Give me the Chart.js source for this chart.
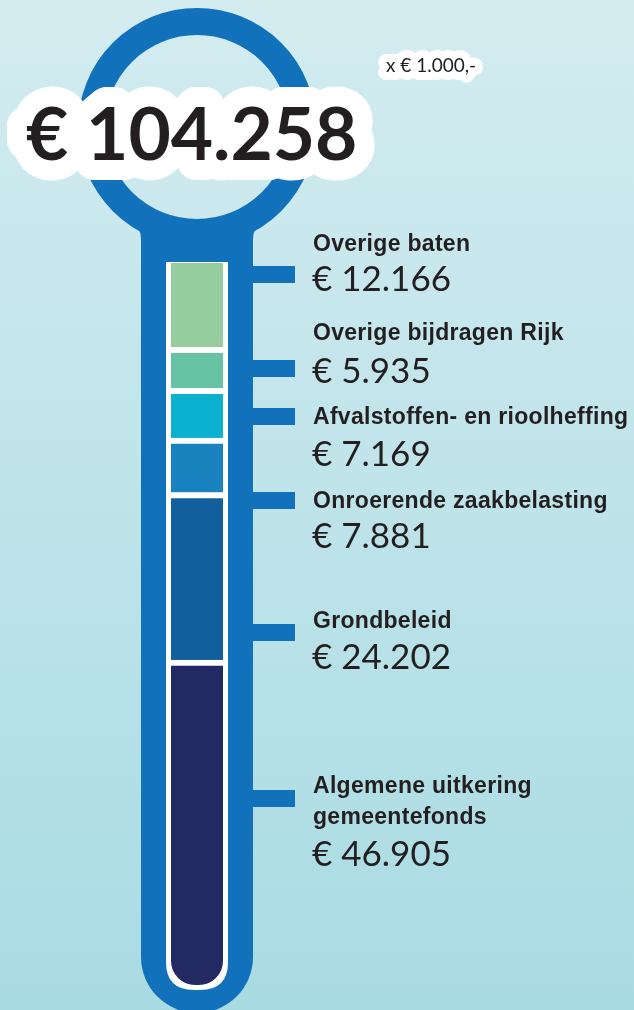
<!DOCTYPE html>
<html>
<head>
<meta charset="utf-8">
<script src="https://cdn.jsdelivr.net/npm/chart.js@4"></script>
<style>
  html, body { margin: 0; padding: 0; background: #c5e6eb; }
  #wrap { position: relative; width: 634px; height: 1010px; }
</style>
</head>
<body>
<div id="wrap"><canvas id="thermoChart"></canvas></div>
<script>
// bottom of the thermometer first (stack order)
const categories = ['Baten 2024'];
const seriesNames = [
    ['Algemene uitkering', 'gemeentefonds'],
    ['Grondbeleid'],
    ['Onroerende zaakbelasting'],
    ['Afvalstoffen- en rioolheffing'],
    ['Overige bijdragen Rijk'],
    ['Overige baten']
];
const seriesValues = [46.905, 24.202, 7.881, 7.169, 5.935, 12.166];
const valueLabels = ['€ 46.905', '€ 24.202', '€ 7.881', '€ 7.169', '€ 5.935', '€ 12.166'];
const totalLabel = '€ 104.258';
const unitLabel = 'x € 1.000,-';

const colors = ['#232a63', '#115f9c', '#1a82bf', '#0db1d0', '#66c3a3', '#95cd9e'];
const total = seriesValues.reduce((a, b) => a + b, 0);

// callout positions (tick, first text line, value line) per series, same order as data
const callouts = [
    { tick: 798, name: 787, value: 855 },
    { tick: 632, name: 622, value: 658 },
    { tick: 500, name: 502, value: 537 },
    { tick: 416, name: 418, value: 455 },
    { tick: 368, name: 334, value: 372 },
    { tick: 274, name: 245, value: 280 }
];

const tubeBlue = '#1172bb';
const ink = '#231f20';

function roundedBottom(c, x, y, w, h, r) {
    c.beginPath();
    c.moveTo(x, y);
    c.lineTo(x + w, y);
    c.lineTo(x + w, y + h - r);
    c.quadraticCurveTo(x + w, y + h, x + w - r, y + h);
    c.lineTo(x + r, y + h);
    c.quadraticCurveTo(x, y + h, x, y + h - r);
    c.closePath();
}

const thermometer = {
    id: 'thermometer',
    beforeDraw(chart) {
        const c = chart.ctx;
        const W = chart.width, H = chart.height;
        c.save();
        const bg = c.createLinearGradient(0, 0, 0, H);
        bg.addColorStop(0, '#d3ecf0');
        bg.addColorStop(1, '#a9dbe3');
        c.fillStyle = bg;
        c.fillRect(0, 0, W, H);

        // outer tube, with small fillets where it meets the bulb
        c.fillStyle = tubeBlue;
        c.beginPath();
        c.moveTo(131, 222);
        c.quadraticCurveTo(141, 226, 141, 240);
        c.lineTo(141, 957);
        c.arc(197, 957, 56, Math.PI, 0, true);
        c.lineTo(253, 240);
        c.quadraticCurveTo(253, 226, 263, 222);
        c.lineTo(197, 230);
        c.closePath();
        c.fill();

        // bulb ring
        c.strokeStyle = tubeBlue;
        c.lineWidth = 27;
        c.beginPath();
        c.arc(197, 127, 105.5, 0, Math.PI * 2);
        c.stroke();

        // ticks
        callouts.forEach(co => {
            c.fillRect(253, co.tick - 8, 42, 17);
        });

        // white inner tube
        c.fillStyle = '#ffffff';
        roundedBottom(c, 166, 262, 62, 728, 28);
        c.fill();
        c.restore();
    },
    afterDraw(chart) {
        const c = chart.ctx;
        c.save();
        c.lineJoin = 'round';
        c.textBaseline = 'alphabetic';

        // total with white halo
        c.font = 'bold 73px Lato';
        c.strokeStyle = '#ffffff';
        c.lineWidth = 40;
        c.strokeText(totalLabel, 26, 160);
        c.fillStyle = ink;
        c.fillText(totalLabel, 26, 160);

        c.font = '19px Lato';
        c.lineWidth = 16;
        c.strokeText(unitLabel, 386, 72);
        c.fillText(unitLabel, 386, 72);

        // callout labels
        c.textBaseline = 'middle';
        callouts.forEach((co, i) => {
            c.font = 'bold 23px "Liberation Sans", Arial, sans-serif';
            c.letterSpacing = '0.3px';
            c.fillStyle = ink;
            seriesNames[i].forEach((line, j) => {
                c.fillText(line, 313, co.name + j * 31);
            });
            c.letterSpacing = '0px';
            c.font = '35px Lato';
            c.fillText(valueLabels[i], 312, co.value);
        });
        c.restore();
    }
};

const datasets = seriesValues.map((v, i) => ({
    label: seriesNames[i].join(' '),
    data: [v],
    backgroundColor: colors[i],
    borderColor: '#ffffff',
    borderSkipped: false,
    borderWidth: { top: i === seriesValues.length - 1 ? 0 : 6, bottom: 0, left: 0, right: 0 },
    borderRadius: i === 0 ? { bottomLeft: 24, bottomRight: 24, topLeft: 0, topRight: 0 } : 0,
    barPercentage: 1,
    categoryPercentage: 1
}));

const ctx = document.getElementById('thermoChart').getContext('2d');
const chart = new Chart(ctx, {
    type: 'bar',
    data: { labels: categories, datasets: datasets },
    plugins: [thermometer],
    options: {
        responsive: true,
        maintainAspectRatio: false,
        animation: false,
        layout: { padding: { top: 263, bottom: 25, left: 171, right: 411 } },
        plugins: { legend: { display: false }, tooltip: { enabled: false } },
        scales: {
            x: { display: false, stacked: true },
            y: { display: false, stacked: true, min: 0, max: total }
        }
    }
});
</script>
</body>
</html>
